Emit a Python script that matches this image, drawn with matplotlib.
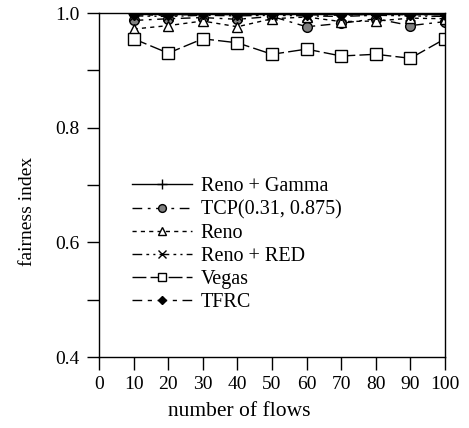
import matplotlib.pyplot as plt
from matplotlib.ticker import MultipleLocator

plt.rcParams['font.family'] = ['Liberation Serif', 'DejaVu Serif']

flows = [10, 20, 30, 40, 50, 60, 70, 80, 90, 100]
reno_gamma = [0.999, 0.999, 0.999, 0.999, 0.999, 0.999, 0.999, 0.999, 0.999, 0.999]
tcp_gamma = [0.987, 0.990, 0.992, 0.989, 0.994, 0.976, 0.982, 0.990, 0.978, 0.985]
reno = [0.972, 0.978, 0.986, 0.976, 0.990, 0.993, 0.985, 0.986, 0.991, 0.990]
reno_red = [0.995, 0.994, 0.996, 0.995, 0.996, 0.995, 0.994, 0.996, 0.995, 0.994]
vegas = [0.955, 0.930, 0.955, 0.948, 0.928, 0.937, 0.925, 0.928, 0.921, 0.955]
tfrc = [0.997, 0.996, 0.998, 0.997, 0.998, 0.997, 0.996, 0.998, 0.997, 0.997]

fig = plt.figure(figsize=(4.69, 4.28), dpi=100)
ax = fig.add_axes([99 / 469, 71 / 428, 346 / 469, 344 / 428])

ms = 7
ax.plot(flows, reno_gamma, color='black', lw=1, marker='+', ms=9, mew=1,
        label='Reno + Gamma')
ax.plot(flows, tcp_gamma, color='black', lw=1, dashes=(7, 4, 2, 4), marker='o',
        ms=ms, mfc='#808080', mec='black', label='TCP(0.31, 0.875)')
ax.plot(flows, reno, color='black', lw=1, dashes=(3, 3), marker='^', ms=ms,
        mfc='white', mec='black', label='Reno')
ax.plot(flows, reno_red, color='black', lw=1, dashes=(7, 3, 2, 3, 1.5, 3), marker='x',
        ms=ms, mew=1, label='Reno + RED')
ax.plot(flows, vegas, color='black', lw=1, dashes=(10, 3), marker='s', ms=ms + 1,
        mfc='white', mec='black', label='Vegas')
ax.plot(flows, tfrc, color='black', lw=1, dashes=(7, 4, 3, 4), marker='D', ms=5.5,
        mfc='black', mec='black', label='TFRC')

ax.set_xlim(0, 100)
ax.set_ylim(0.4, 1.0)
ax.xaxis.set_major_locator(MultipleLocator(10))
ax.yaxis.set_major_locator(MultipleLocator(0.2))
ax.yaxis.set_minor_locator(MultipleLocator(0.1))
ax.yaxis.set_major_formatter(plt.FormatStrFormatter('%.1f'))
ax.tick_params(direction='out', length=9, width=1, pad=5, labelsize=14,
               top=False, right=False)
ax.tick_params(which='minor', direction='out', length=9, width=1)
for s in ax.spines.values():
    s.set_linewidth(1)

ax.set_xlabel('number of flows', fontsize=15.5, labelpad=6, x=0.405)
ax.set_ylabel('fairness index', fontsize=14, labelpad=14, y=0.424)

ax.legend(loc='upper left', bbox_to_anchor=(0.073, 0.546), frameon=False, fontsize=14.5,
          handlelength=2.95, handletextpad=0.45, labelspacing=0.2, borderaxespad=0,
          markerscale=0.8)

fig.savefig('out.png', dpi=100)
